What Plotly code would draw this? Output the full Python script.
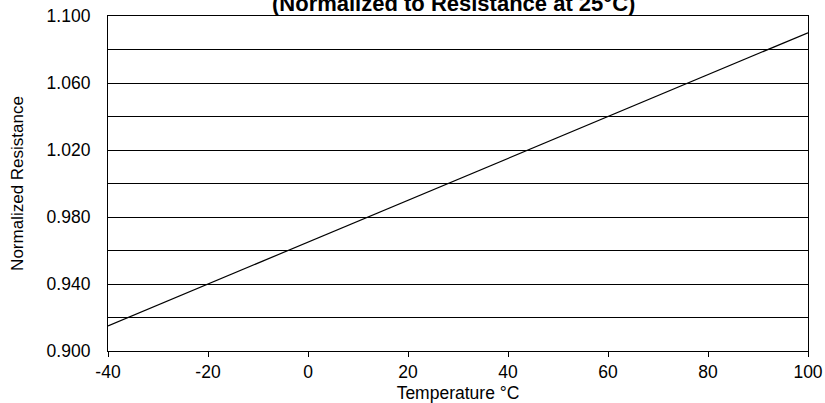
import plotly.graph_objects as go

temps = [-40, -20, 0, 20, 40, 60, 80, 100]
norm_res = [0.915, 0.940, 0.965, 0.990, 1.015, 1.040, 1.065, 1.090]
y_ticks = [0.900, 0.940, 0.980, 1.020, 1.060, 1.100]
y_labels = ["0.900", "0.940", "0.980", "1.020", "1.060", "1.100"]
x_ticks = [-40, -20, 0, 20, 40, 60, 80, 100]
x_labels = ["-40", "-20", "0", "20", "40", "60", "80", "100"]

font_family = "Liberation Sans, Arial, Helvetica, sans-serif"

fig = go.Figure()
fig.add_trace(go.Scatter(x=temps, y=norm_res, mode="lines",
                         line=dict(color="black", width=1.2), showlegend=False))

fig.update_layout(
    width=825, height=403,
    margin=dict(l=108, r=17, t=16, b=52, autoexpand=False),
    paper_bgcolor="white", plot_bgcolor="white",
    font=dict(family=font_family, size=17.5, color="black"),
    xaxis=dict(range=[-40, 100], tickvals=x_ticks, ticktext=x_labels, ticks="outside", ticklen=5,
               tickcolor="black", showline=True, linecolor="black", linewidth=1.2,
               mirror=True, showgrid=False, zeroline=False, automargin=False,
               title=dict(text="Temperature °C", font=dict(size=17.5), standoff=6)),
    yaxis=dict(range=[0.900, 1.100], tickvals=y_ticks, ticktext=y_labels,
               showline=True, linecolor="black", linewidth=1.2, mirror=True,
               showgrid=True, gridcolor="black", gridwidth=1, zeroline=False,
               ticks="", ticklabelstandoff=13, automargin=False,
               minor=dict(dtick=0.02, tick0=0.9, showgrid=True, gridcolor="black", gridwidth=1),
               title=dict(text="Normalized Resistance", font=dict(size=17), standoff=18)),
)

fig.add_annotation(text="<b>(Normalized to Resistance at 25°C)</b>", xref="paper", yref="paper",
                   x=0.494, y=1, yanchor="bottom", yshift=-2, showarrow=False,
                   font=dict(size=22, family=font_family))

fig.write_html("out.html", post_script="document.body.style.margin='0';",
               config={"displayModeBar": False})
